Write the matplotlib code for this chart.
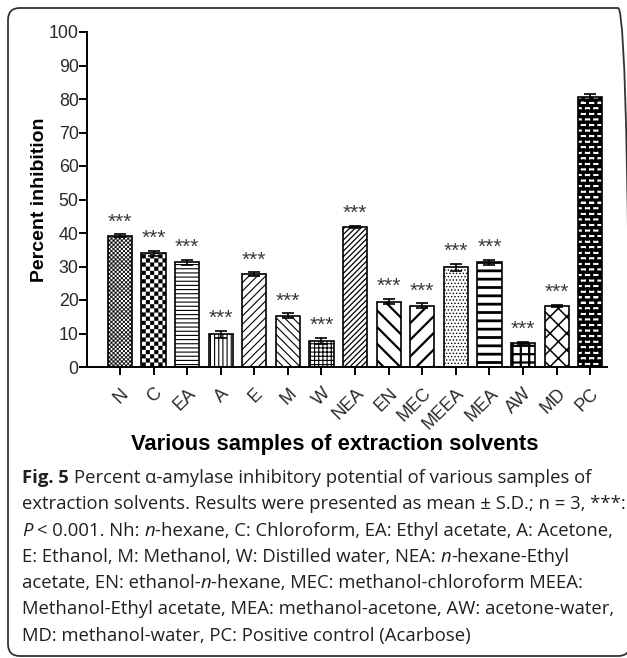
import warnings
import numpy as np
import matplotlib
matplotlib.use("Agg")
import matplotlib.pyplot as plt
import matplotlib.hatch as mhatch
from matplotlib.path import Path
from matplotlib.patches import FancyBboxPatch
from matplotlib.transforms import IdentityTransform

warnings.filterwarnings("ignore")

# ---------------------------------------------------------------- data
categories = ["N", "C", "EA", "A", "E", "M", "W", "NEA", "EN", "MEC",
              "MEEA", "MEA", "AW", "MD", "PC"]
inhibition = [39.2, 33.9, 31.2, 9.8, 27.8, 15.3, 7.8, 41.8, 19.5, 18.3,
              29.8, 31.2, 7.2, 18.3, 80.5]
std_dev = [0.4, 0.8, 0.8, 1.0, 0.5, 0.7, 0.9, 0.3, 0.8, 0.8,
           1.0, 0.8, 0.3, 0.3, 1.0]
significance = ["***"] * 14 + [""]
y_ticks = [0, 10, 20, 30, 40, 50, 60, 70, 80, 90, 100]


# ---------------------------------------------------------------- extra hatch tiles
class _TileHatch(mhatch.HatchPatternBase):
    key = ""

    def __init__(self, hatch, density):
        n = hatch.count(self.key) if hatch else 0
        if n:
            verts, codes = self.build(n * density)
            self.verts = np.asarray(verts, float)
            self.codes = np.asarray(codes, dtype=Path.code_type)
        else:
            self.verts = np.empty((0, 2))
            self.codes = np.empty(0, dtype=Path.code_type)
        self.num_vertices = len(self.verts)

    def set_vertices_and_codes(self, vertices, codes):
        vertices[:] = self.verts
        codes[:] = self.codes


class CheckerHatch(_TileHatch):
    """Filled checkerboard squares."""
    key = "c"

    def build(self, n):
        s = 1.0 / n
        d = 0.002
        verts, codes = [], []
        for i in range(n):
            for j in range(n):
                if (i + j) % 2 == 0:
                    x0, y0, x1, y1 = i * s + d, j * s + d, (i + 1) * s - d, (j + 1) * s - d
                    verts += [(x0, y0), (x1, y0), (x1, y1), (x0, y1), (x0, y0)]
                    codes += [Path.MOVETO, Path.LINETO, Path.LINETO,
                              Path.LINETO, Path.CLOSEPOLY]
        return verts, codes


class BrickHatch(_TileHatch):
    """Running-bond brick wall."""
    key = "b"

    def build(self, n):
        rows = n
        cols = max(1, (2 * n) // 3)
        verts, codes = [], []
        for r in range(rows + 1):
            y = r / rows
            verts += [(0.0, y), (1.0, y)]
            codes += [Path.MOVETO, Path.LINETO]
        for r in range(rows):
            y0, y1 = r / rows, (r + 1) / rows
            off = 0.5 * (r % 2)
            for k in range(cols + 1):
                x = (k + off) / cols
                if x <= 1.0:
                    verts += [(x, y0), (x, y1)]
                    codes += [Path.MOVETO, Path.LINETO]
        return verts, codes


mhatch._hatch_types.extend([CheckerHatch, BrickHatch])

# hatch pattern and hatch line width (pt) for each bar
bar_hatch = ["cccccccc", "cccc", "----", "||||", "////", "\\\\\\\\", "++++",
             "//////", "\\\\", "//", ".....", "--", "++", "xx", "bbb"]
hatch_lw = [0.3, 0.3, 0.8, 0.8, 0.8, 0.8, 0.8,
            0.9, 1.6, 1.6, 0.6, 2.0, 1.6, 1.1, 2.2]

# ---------------------------------------------------------------- figure
W, H = 627, 658
fig = plt.figure(figsize=(W / 100, H / 100), dpi=100)
fig.patch.set_facecolor("white")

chart_font = "Liberation Sans"
ax = fig.add_axes([87 / W, 1 - 367 / H, (607 - 87) / W, (367 - 32) / H])

x = np.arange(len(categories))
for i in range(len(categories)):
    with plt.rc_context({"hatch.linewidth": hatch_lw[i], "hatch.color": "black"}):
        bars = ax.bar(x[i], inhibition[i], width=0.72, facecolor="white",
                      edgecolor="black", linewidth=1.2, hatch=bar_hatch[i], zorder=2)
        for b in bars:
            if hasattr(b, "set_hatch_linewidth"):
                b.set_hatch_linewidth(hatch_lw[i])

ax.errorbar(x, inhibition, yerr=std_dev, fmt="none", ecolor="black",
            elinewidth=1.2, capsize=4, capthick=1.2, zorder=3)

for xi, v, e, s in zip(x, inhibition, std_dev, significance):
    if s:
        ax.text(xi, v + e + 0.8, s, ha="center", va="bottom", fontsize=15,
                family=chart_font, color="#3a3a3a")

ax.set_xlim(-0.98, 14.5)
ax.set_ylim(0, 100)
ax.set_yticks(y_ticks)
ax.set_xticks(x)
ax.set_xticklabels(categories, rotation=45, ha="right", rotation_mode="anchor",
                   fontsize=13, family=chart_font, color="#2a2a2a")
for lab in ax.get_yticklabels():
    lab.set_family(chart_font)
    lab.set_fontsize(12.8)
    lab.set_color("#2a2a2a")

for side in ("top", "right"):
    ax.spines[side].set_visible(False)
for side in ("left", "bottom"):
    ax.spines[side].set_linewidth(1.4)
ax.tick_params(axis="both", direction="out", length=6, width=1.4)
ax.tick_params(axis="y", pad=0)
ax.tick_params(axis="x", pad=7)

ax.set_ylabel("Percent inhibition", fontsize=14, fontweight="bold",
              family=chart_font)
ax.yaxis.set_label_coords(-0.075, 0.5)
ax.set_xlabel("Various samples of extraction solvents", fontsize=15.8,
              fontweight="bold", family=chart_font)
ax.xaxis.set_label_coords(0.477, -0.2)

# ---------------------------------------------------------------- rounded frame
frame = FancyBboxPatch((8, 2), 622, 648,
                       boxstyle="round,pad=0,rounding_size=12",
                       transform=IdentityTransform(), fill=False,
                       linewidth=1.3, edgecolor="#333333")
fig.add_artist(frame)

# ---------------------------------------------------------------- caption
cap_font = "Open Sans"
cap_size = 13.3
cap_color = "#231f20"
styles = {"n": dict(weight="normal", style="normal"),
          "b": dict(weight="bold", style="normal"),
          "i": dict(weight="normal", style="italic")}

caption = [
    [("Fig. 5", "b", True),
     ("Percent α-amylase inhibitory potential of various samples of", "n", False)],
    [("extraction solvents. Results were presented as mean ± S.D.; n = 3, ***:", "n", False)],
    [("P", "i", True), ("< 0.001. Nh:", "n", True), ("n", "i", False),
     ("-hexane, C: Chloroform, EA: Ethyl acetate, A: Acetone,", "n", False)],
    [("E: Ethanol, M: Methanol, W: Distilled water, NEA:", "n", True), ("n", "i", False),
     ("-hexane-Ethyl", "n", False)],
    [("acetate, EN: ethanol-", "n", False), ("n", "i", False),
     ("-hexane, MEC: methanol-chloroform MEEA:", "n", False)],
    [("Methanol-Ethyl acetate, MEA: methanol-acetone, AW: acetone-water,", "n", False)],
    [("MD: methanol-water, PC: Positive control (Acarbose)", "n", False)],
]

renderer = fig.canvas.get_renderer()


def text_width(s, **kw):
    t = fig.text(0, 0, s, fontsize=cap_size, family=cap_font, **kw)
    w = t.get_window_extent(renderer).width
    t.remove()
    return w


space_w = text_width("a a") - text_width("aa")

y0, dy = 478, 26.3
for k, line in enumerate(caption):
    xp = 22
    yp = y0 + k * dy
    for txt, st, sp in line:
        t = fig.text(xp / W, 1 - yp / H, txt, fontsize=cap_size, family=cap_font,
                     color=cap_color, ha="left", va="center", **styles[st])
        xp += t.get_window_extent(renderer).width + (space_w if sp else 0.0)

fig.savefig("out.png", dpi=100, facecolor="white")
